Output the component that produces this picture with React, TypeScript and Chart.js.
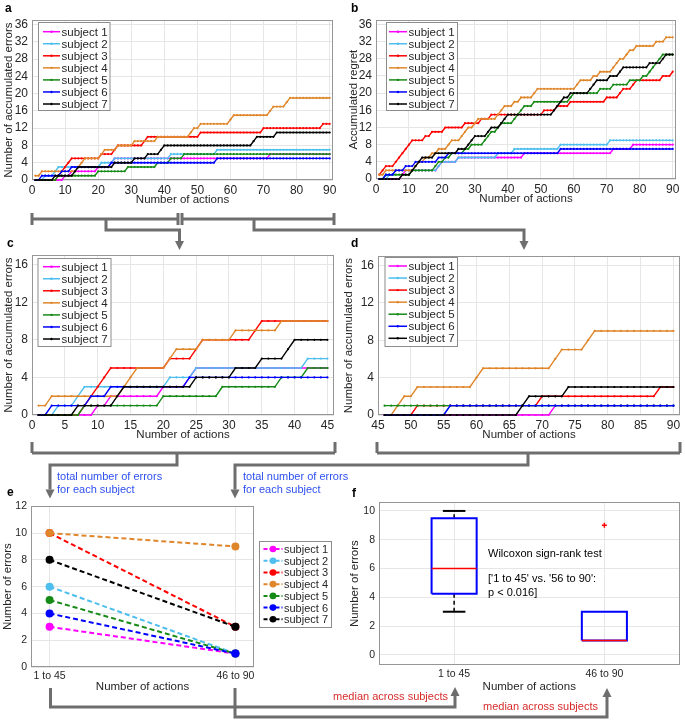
import React, { useEffect, useRef } from 'react';
import { Chart, registerables } from 'chart.js';

Chart.register(...registerables);

const FONT = "'Liberation Sans', Arial, Helvetica, sans-serif";
Chart.defaults.font.family = FONT;

// ---------------- data ----------------
const subjectNames = ['subject 1', 'subject 2', 'subject 3', 'subject 4', 'subject 5', 'subject 6', 'subject 7'];
const subjectColors = ['#ff00ff', '#4dbeee', '#ff0000', '#e0862a', '#168a16', '#0000ff', '#000000'];

// actions (1..90) at which each subject made an error
const errorActionsS1 = [10, 12, 20, 24, 25, 72];
const errorActionsS2 = [4, 7, 8, 21, 25, 42, 56];
const errorActionsS3 = [8, 9, 10, 11, 12, 21, 25, 26, 34, 35, 51, 70, 88];
const errorActionsS4 = [1, 3, 14, 15, 16, 21, 22, 26, 31, 38, 48, 49, 51, 60, 61, 72, 73, 77, 78];
const errorActionsS5 = [8, 20, 29, 38, 42, 46];
const errorActionsS6 = [3, 9, 12, 24, 56];
const errorActionsS7 = [7, 13, 14, 25, 31, 35, 39, 40, 67, 68, 74];
const errorActions = [errorActionsS1, errorActionsS2, errorActionsS3, errorActionsS4, errorActionsS5, errorActionsS6, errorActionsS7];

// actions (1..90) at which each subject's accumulated regret increased
const regretActionsS1 = [8, 9, 19, 20, 25, 45, 72, 78];
const regretActionsS2 = [4, 6, 19, 20, 25, 37, 42, 56, 71];
const regretActionsS3 = [1, 2, 3, 6, 7, 8, 9, 10, 11, 15, 17, 21, 27, 32, 35, 51, 55, 59, 70, 74, 75, 78, 79, 87, 90];
const regretActionsS4 = [1, 3, 12, 13, 15, 17, 19, 22, 23, 26, 27, 28, 30, 31, 37, 38, 39, 42, 44, 48, 49, 61, 62, 66, 68, 72, 73, 74, 76, 77, 79, 85, 88];
const regretActionsS5 = [3, 11, 18, 19, 21, 23, 27, 29, 33, 34, 35, 37, 38, 42, 43, 44, 45, 48, 59, 60, 68, 72, 77, 81, 83, 84, 85, 86, 87];
const regretActionsS6 = [3, 6, 9, 12, 19, 22, 56];
const regretActionsS7 = [8, 11, 12, 13, 14, 18, 25, 28, 29, 30, 34, 35, 38, 39, 40, 54, 55, 56, 57, 59, 65, 66, 67, 71, 74, 75, 83, 87, 88];
const regretActions = [regretActionsS1, regretActionsS2, regretActionsS3, regretActionsS4, regretActionsS5, regretActionsS6, regretActionsS7];

const actionTicksAll = [0, 10, 20, 30, 40, 50, 60, 70, 80, 90];
const actionTicksFirstHalf = [0, 5, 10, 15, 20, 25, 30, 35, 40, 45];
const actionTicksSecondHalf = [45, 50, 55, 60, 65, 70, 75, 80, 85, 90];
const countTicksFull = [0, 4, 8, 12, 16, 20, 24, 28, 32, 36];
const countTicksHalf = [0, 4, 8, 12, 16];
const totalTicks = [0, 2, 4, 6, 8, 10, 12];
const boxTicks = [0, 2, 4, 6, 8, 10];

const periodLabels = ['1 to 45', '46 to 90'];
const errorsFirstHalf = [3, 6, 10, 10, 5, 4, 8];
const errorsSecondHalf = [1, 1, 3, 9, 1, 1, 3];

const boxQ1 = [4.25, 1];
const boxMedian = [6, 1];
const boxQ3 = [9.5, 3];
const whiskerLow = [3, 1];
const whiskerHigh = [10, 3];
const boxOutliers = [[], [9]];

// ---------------- styling ----------------
const TICK_COLOR = '#262626';
const GRID_COLOR = '#e6e6e6';
const FRAME_COLOR = '#969696';
const ANNO_COLOR = '#6e6e6e';
const BLUE_TEXT = '#2e50f0';
const RED_TEXT = '#d62b2b';

const framePlugin = {
  id: 'frame',
  beforeDatasetsDraw(chart: any) {
    const { ctx, chartArea } = chart;
    const l = Math.round(chartArea.left), t = Math.round(chartArea.top);
    const r = Math.round(chartArea.right), b = Math.round(chartArea.bottom);
    ctx.save();
    ctx.strokeStyle = FRAME_COLOR;
    ctx.lineWidth = 1;
    ctx.strokeRect(l + 0.5, t + 0.5, r - l - 1, b - t - 1);
    ctx.restore();
  },
};

type Geom = { cx: number; cy: number; cw: number; ch: number; yw: number; xh: number; pt: number; pr: number };

function makeGeom(L: number, T: number, R: number, B: number, yTitleX: number, xTitleY: number, titleSize: number): Geom {
  const lh = titleSize * 1.2;
  const cx = Math.round(yTitleX - lh / 2);
  const yw = L - cx;
  const xh = Math.round(xTitleY + lh / 2 - B);
  const pt = 8;
  const pr = Math.min(8, 685 - R);
  const cy = T - pt;
  return { cx, cy, cw: R + pr - cx, ch: B - cy + xh, yw, xh, pt, pr };
}

type AxisSpec = { min: number; max: number; ticks: number[]; title: string; label?: (v: number) => string };

function buildOptions(g: Geom, xs: AxisSpec, ys: AxisSpec, tickSize: number, titleSize: number) {
  return {
    responsive: false,
    maintainAspectRatio: false,
    animation: false as const,
    events: [] as any[],
    layout: { padding: { left: 0, top: g.pt, right: g.pr, bottom: 0 } },
    plugins: { legend: { display: false }, tooltip: { enabled: false } },
    scales: {
      x: {
        type: 'linear' as const,
        min: xs.min,
        max: xs.max,
        afterBuildTicks: (ax: any) => { ax.ticks = xs.ticks.map((v) => ({ value: v })); },
        afterFit: (s: any) => { s.height = g.xh; },
        grid: { color: GRID_COLOR, drawTicks: false },
        border: { display: false },
        ticks: {
          padding: 3, autoSkip: false, maxRotation: 0, color: TICK_COLOR, font: { size: tickSize },
          callback: (v: any) => (xs.label ? xs.label(v) : String(v)),
        },
        title: { display: true, text: xs.title, padding: 0, color: TICK_COLOR, font: { size: titleSize } },
      },
      y: {
        type: 'linear' as const,
        min: ys.min,
        max: ys.max,
        afterBuildTicks: (ax: any) => { ax.ticks = ys.ticks.map((v) => ({ value: v })); },
        afterFit: (s: any) => { s.width = g.yw; },
        grid: { color: GRID_COLOR, drawTicks: false },
        border: { display: false },
        ticks: { padding: 4, autoSkip: false, color: TICK_COLOR, font: { size: tickSize }, callback: (v: any) => String(v) },
        title: { display: true, text: ys.title, padding: 0, color: TICK_COLOR, font: { size: titleSize } },
      },
    },
  };
}

function cumulativeSeries(events: number[], from: number, to: number) {
  const pts: { x: number; y: number }[] = [];
  let count = 0;
  for (let n = from; n <= to; n++) {
    count += events.filter((e) => e === n).length;
    pts.push({ x: n, y: count });
  }
  return pts;
}

function stepDatasets(source: number[][], from: number, to: number) {
  return source.map((ev, i) => ({
    label: subjectNames[i],
    data: cumulativeSeries(ev, from, to),
    borderColor: subjectColors[i],
    backgroundColor: subjectColors[i],
    borderWidth: 1.4,
    pointRadius: 1.1,
    pointBorderWidth: 0,
    pointBackgroundColor: subjectColors[i],
    tension: 0,
    clip: false as const,
    order: 7 - i,
  }));
}

// ---------------- panel geometry ----------------
const TS_AD = 12;
const TT = 11.5;
const TS_EF = 10.5;
const geomA = makeGeom(32, 17, 333, 180, 9, 200, TT);
const geomB = makeGeom(376, 17, 676, 179, 354, 199, TT);
const geomC = makeGeom(32, 252, 334, 415, 9, 435, TT);
const geomD = makeGeom(378, 253, 680, 415, 349, 435, TT);
const geomE = makeGeom(31, 504, 254, 667, 8, 687, TT);
const geomF = makeGeom(379, 500, 682, 665, 355, 687, TT);

const BOX_HALF = 0.15;
const CAP_HALF = 0.075;

function configA() {
  return {
    type: 'line' as const,
    data: { datasets: stepDatasets(errorActions, 1, 90) },
    options: buildOptions(geomA,
      { min: 0, max: 91, ticks: actionTicksAll, title: 'Number of actions' },
      { min: 0, max: 37, ticks: countTicksFull, title: 'Number of accumulated errors' }, TS_AD, TT),
    plugins: [framePlugin],
  };
}
function configB() {
  return {
    type: 'line' as const,
    data: { datasets: stepDatasets(regretActions, 1, 90) },
    options: buildOptions(geomB,
      { min: 0, max: 91, ticks: actionTicksAll, title: 'Number of actions' },
      { min: 0, max: 37, ticks: countTicksFull, title: 'Accumulated regret' }, TS_AD, TT),
    plugins: [framePlugin],
  };
}
function configC() {
  return {
    type: 'line' as const,
    data: { datasets: stepDatasets(errorActions, 1, 45) },
    options: buildOptions(geomC,
      { min: 0, max: 46, ticks: actionTicksFirstHalf, title: 'Number of actions' },
      { min: 0, max: 17, ticks: countTicksHalf, title: 'Number of accumulated errors' }, TS_AD, TT),
    plugins: [framePlugin],
  };
}
function configD() {
  return {
    type: 'line' as const,
    data: { datasets: stepDatasets(errorActions, 46, 90) },
    options: buildOptions(geomD,
      { min: 45, max: 91, ticks: actionTicksSecondHalf, title: 'Number of actions' },
      { min: 0, max: 17, ticks: countTicksHalf, title: 'Number of accumulated errors' }, TS_AD, TT),
    plugins: [framePlugin],
  };
}
function configE() {
  const datasets = subjectNames.map((name, i) => ({
    label: name,
    data: [{ x: 1, y: errorsFirstHalf[i] }, { x: 2, y: errorsSecondHalf[i] }],
    borderColor: subjectColors[i],
    backgroundColor: subjectColors[i],
    borderWidth: 2,
    borderDash: [5, 3],
    pointRadius: 4,
    pointBorderWidth: 0,
    pointBackgroundColor: subjectColors[i],
    clip: false as const,
    order: 7 - i,
  }));
  return {
    type: 'line' as const,
    data: { datasets },
    options: buildOptions(geomE,
      { min: 0.9, max: 2.1, ticks: [1, 2], title: 'Number of actions', label: (v) => periodLabels[v - 1] },
      { min: 0, max: 12, ticks: totalTicks, title: 'Number of errors' }, TS_EF, TT),
    plugins: [framePlugin],
  };
}
function configF() {
  const datasets: any[] = [];
  const line = (pts: { x: number; y: number }[], color: string, width: number, order: number, dash: number[] = []) => ({
    data: pts, showLine: true, borderColor: color, borderWidth: width, borderDash: dash,
    pointRadius: 0, clip: false, order, borderJoinStyle: 'miter',
  });
  periodLabels.forEach((_, k) => {
    const x = k + 1;
    if (whiskerHigh[k] > boxQ3[k]) {
      datasets.push(line([{ x, y: boxQ3[k] }, { x, y: whiskerHigh[k] }], '#000000', 1.5, 3, [4, 3]));
      datasets.push(line([{ x: x - CAP_HALF, y: whiskerHigh[k] }, { x: x + CAP_HALF, y: whiskerHigh[k] }], '#000000', 2, 3));
    }
    if (whiskerLow[k] < boxQ1[k]) {
      datasets.push(line([{ x, y: whiskerLow[k] }, { x, y: boxQ1[k] }], '#000000', 1.5, 3, [4, 3]));
      datasets.push(line([{ x: x - CAP_HALF, y: whiskerLow[k] }, { x: x + CAP_HALF, y: whiskerLow[k] }], '#000000', 2, 3));
    }
    datasets.push(line([
      { x: x - BOX_HALF, y: boxQ1[k] }, { x: x + BOX_HALF, y: boxQ1[k] },
      { x: x + BOX_HALF, y: boxQ3[k] }, { x: x - BOX_HALF, y: boxQ3[k] },
      { x: x - BOX_HALF, y: boxQ1[k] },
    ], '#0000ff', 2, 2));
    datasets.push(line([{ x: x - BOX_HALF, y: boxMedian[k] }, { x: x + BOX_HALF, y: boxMedian[k] }], '#ff0000', 1.5, 1));
    if (boxOutliers[k].length) {
      datasets.push({
        data: boxOutliers[k].map((v) => ({ x, y: v })), showLine: false, pointStyle: 'cross',
        pointRadius: 2.5, borderColor: '#ff0000', pointBorderColor: '#ff0000', pointBorderWidth: 1.5, clip: false, order: 1,
      });
    }
  });
  return {
    type: 'scatter' as const,
    data: { datasets },
    options: buildOptions(geomF,
      { min: 0.5, max: 2.5, ticks: [1, 2], title: 'Number of actions', label: (v) => periodLabels[v - 1] },
      { min: -0.7, max: 10.6, ticks: boxTicks, title: 'Number of errors' }, TS_EF, TT),
    plugins: [framePlugin],
  };
}

function ChartPanel({ g, build }: { g: Geom; build: () => any }) {
  const ref = useRef<HTMLCanvasElement>(null);
  useEffect(() => {
    const chart = new Chart(ref.current as HTMLCanvasElement, build());
    return () => chart.destroy();
  }, []);
  return (
    <canvas
      ref={ref}
      width={g.cw}
      height={g.ch}
      style={{ position: 'absolute', left: g.cx, top: g.cy, width: g.cw, height: g.ch }}
    />
  );
}

// ---------------- annotations ----------------
function LegendBox(p: {
  x: number; y: number; w: number; h: number; y0: number; gap: number;
  x1: number; x2: number; tx: number; fs: number; dashed?: boolean; r: number;
}) {
  return (
    <g>
      <rect x={p.x} y={p.y} width={p.w} height={p.h} fill="#ffffff" stroke="#8c8c8c" strokeWidth={1} />
      {subjectNames.map((s, i) => {
        const cy = p.y0 + i * p.gap;
        return (
          <g key={s}>
            <line x1={p.x1} x2={p.x2} y1={cy} y2={cy} stroke={subjectColors[i]}
              strokeWidth={p.dashed ? 2 : 1.5} strokeDasharray={p.dashed ? '4 2' : undefined} />
            <circle cx={(p.x1 + p.x2) / 2} cy={cy} r={p.r} fill={subjectColors[i]} />
            <text x={p.tx} y={cy} dominantBaseline="central" fontSize={p.fs} fill={TICK_COLOR}>{s}</text>
          </g>
        );
      })}
    </g>
  );
}

function Connector({ pts, arrow }: { pts: [number, number][]; arrow?: boolean }) {
  let head: any = null;
  let linePts = pts;
  if (arrow) {
    const [x2, y2] = pts[pts.length - 1];
    const [x1, y1] = pts[pts.length - 2];
    const len = Math.hypot(x2 - x1, y2 - y1);
    const ux = (x2 - x1) / len, uy = (y2 - y1) / len;
    const hl = 9, hw = 4.5;
    const bx = x2 - ux * hl, by = y2 - uy * hl;
    head = <polygon points={`${x2},${y2} ${bx - uy * hw},${by + ux * hw} ${bx + uy * hw},${by - ux * hw}`} fill={ANNO_COLOR} />;
    linePts = [...pts.slice(0, -1), [bx, by]];
  }
  return (
    <g>
      <polyline points={linePts.map((q) => q.join(',')).join(' ')} fill="none" stroke={ANNO_COLOR} strokeWidth={3} strokeLinejoin="miter" />
      {head}
    </g>
  );
}

function Bracket({ x1, x2, y, tTop, tBot }: { x1: number; x2: number; y: number; tTop: number; tBot: number }) {
  return (
    <g stroke={ANNO_COLOR} strokeWidth={3}>
      <line x1={x1} x2={x2} y1={y} y2={y} />
      <line x1={x1} x2={x1} y1={tTop} y2={tBot} />
      <line x1={x2} x2={x2} y1={tTop} y2={tBot} />
    </g>
  );
}

function Overlay() {
  const letter = { fontSize: 12, fontWeight: 700 as const, fill: '#000' };
  return (
    <svg width={685} height={722} style={{ position: 'absolute', left: 0, top: 0, pointerEvents: 'none' }} fontFamily={FONT}>
      <text x={5} y={12} {...letter}>a</text>
      <text x={351} y={12} {...letter}>b</text>
      <text x={7} y={247} {...letter}>c</text>
      <text x={351} y={247} {...letter}>d</text>
      <text x={7} y={496} {...letter}>e</text>
      <text x={352} y={497} {...letter}>f</text>

      <LegendBox x={38.5} y={22.5} w={71.5} h={88} y0={31.7} gap={12.05} x1={43} x2={60} tx={61.5} fs={11.5} r={1.2} />
      <LegendBox x={386.5} y={22.5} w={71} h={88} y0={31.7} gap={12.05} x1={389} x2={407} tx={408.5} fs={11.5} r={1.2} />
      <LegendBox x={38} y={258.5} w={73} h={88} y0={266.7} gap={12.05} x1={43} x2={60} tx={61.5} fs={11.5} r={1.2} />
      <LegendBox x={385} y={257.5} w={72.5} h={89} y0={266} gap={12.05} x1={388.5} x2={407} tx={408.5} fs={11.5} r={1.2} />
      <LegendBox x={259.5} y={541.5} w={72} h={86} y0={549} gap={11.72} x1={263.5} x2={282.5} tx={284} fs={11} dashed r={3.3} />

      <Bracket x1={32} x2={178} y={219} tTop={213} tBot={225} />
      <Bracket x1={182} x2={334} y={219} tTop={213} tBot={225} />
      <Connector pts={[[106, 219], [106, 230], [179.5, 230], [179.5, 250]]} arrow />
      <Connector pts={[[254, 219], [254, 230], [524, 230], [524, 250]]} arrow />

      <Bracket x1={32} x2={335} y={453} tTop={442} tBot={453} />
      <Connector pts={[[177, 453], [177, 465], [50, 465], [50, 498.5]]} arrow />
      <Bracket x1={377} x2={680} y={453} tTop={442} tBot={453} />
      <Connector pts={[[528, 453], [528, 465], [235, 465], [235, 498.5]]} arrow />

      <text x={57} y={480} fontSize={11} fill={BLUE_TEXT}>total number of errors</text>
      <text x={57} y={492.5} fontSize={11} fill={BLUE_TEXT}>for each subject</text>
      <text x={243} y={480} fontSize={11} fill={BLUE_TEXT}>total number of errors</text>
      <text x={243} y={492.5} fontSize={11} fill={BLUE_TEXT}>for each subject</text>

      <Connector pts={[[50.5, 688], [50.5, 707], [455, 707], [455, 687]]} arrow />
      <Connector pts={[[235, 688], [235, 717], [607, 717], [607, 688]]} arrow />
      <text x={448} y={700} fontSize={11} fill={RED_TEXT} textAnchor="end">median across subjects</text>
      <text x={483} y={710} fontSize={11} fill={RED_TEXT}>median across subjects</text>

      <text x={488} y={557} fontSize={11} fill="#000">Wilcoxon sign-rank test</text>
      <text x={488} y={582} fontSize={11} fill="#000">['1 to 45' vs. '56 to 90':</text>
      <text x={488} y={596} fontSize={11} fill="#000">p {'<'} 0.016]</text>
    </svg>
  );
}

export default function App() {
  return (
    <div style={{ position: 'absolute', left: 0, top: 0, width: 685, height: 722, background: '#ffffff', fontFamily: FONT }}>
      <ChartPanel g={geomA} build={configA} />
      <ChartPanel g={geomB} build={configB} />
      <ChartPanel g={geomC} build={configC} />
      <ChartPanel g={geomD} build={configD} />
      <ChartPanel g={geomE} build={configE} />
      <ChartPanel g={geomF} build={configF} />
      <Overlay />
    </div>
  );
}
